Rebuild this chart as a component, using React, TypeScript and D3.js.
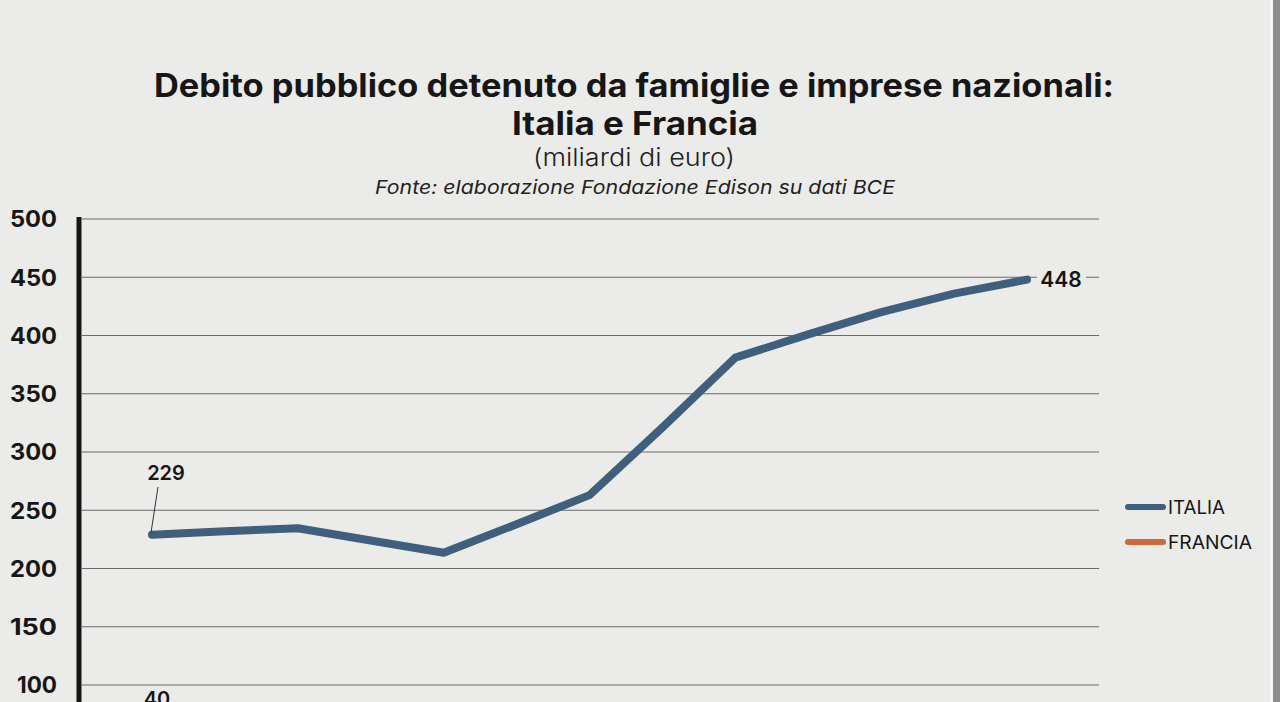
import React from "react";
import * as d3 from "d3";

const periods = ["2010","2011","2012","2013","2014","2015","2016","2017","2018","2019","2020","2021","2022"];
const italia = [229, 232, 234.5, 224, 213.5, 238, 263, 321, 381, 401, 420, 436, 448];
const francia = [40, 41, 43, 44, 42, 45, 48, 52, 55, 58, 62, 66, 70];
const yTicks = [100, 150, 200, 250, 300, 350, 400, 450, 500];

const W = 1280, H = 702;
const BG = "#ebebe9";
const BLUE = "#3f5f7c";
const ORANGE = "#d0693a";

export default function App() {
  const x = d3.scalePoint<string>().domain(periods).range([152, 1027]);
  const y = d3.scaleLinear().domain([100, 500]).range([685, 219]);
  const line = d3.line<number>().x((_, i) => x(periods[i]) as number).y((d) => y(d));
  const font = "Inter, 'Open Sans', sans-serif";
  const last = italia.length - 1;
  return (
    <svg width={W} height={H} style={{ position: "fixed", left: 0, top: 0, background: BG }} fontFamily={font}>
      <rect x={0} y={0} width={W} height={H} fill={BG} />
      <rect x={1270} y={0} width={3} height={H} fill="#f6f6f5" />
      <rect x={1273} y={0} width={7} height={H} fill="#8d8d8d" />
      <text x={634} y={97} textAnchor="middle" fontSize={32} fontWeight={700} fill="#161616" textLength={960} lengthAdjust="spacingAndGlyphs">Debito pubblico detenuto da famiglie e imprese nazionali:</text>
      <text x={635} y={135} textAnchor="middle" fontSize={32} fontWeight={700} fill="#161616" textLength={246} lengthAdjust="spacingAndGlyphs">Italia e Francia</text>
      <text x={634} y={166} textAnchor="middle" fontSize={24} fontWeight={300} fill="#222" textLength={202} lengthAdjust="spacingAndGlyphs">(miliardi di euro)</text>
      <text x={635} y={194} textAnchor="middle" fontSize={19} fontStyle="italic" fill="#222" textLength={520} lengthAdjust="spacingAndGlyphs">Fonte: elaborazione Fondazione Edison su dati BCE</text>
      {yTicks.map((t) => (
        <g key={t}>
          <line x1={82} x2={1099} y1={y(t)} y2={y(t)} stroke="#6a6a6a" strokeWidth={1.2} />
          <text x={57} y={y(t)} dy="0.36em" textAnchor="end" fontSize={23} fontWeight={700} fill="#161616" textLength={t === 100 ? 40 : 47} lengthAdjust="spacingAndGlyphs">{t}</text>
        </g>
      ))}
      <line x1={79} x2={79} y1={217} y2={H} stroke="#161616" strokeWidth={5} />
      <path d={line(francia) || ""} fill="none" stroke={ORANGE} strokeWidth={8} strokeLinecap="round" strokeLinejoin="round" />
      <path d={line(italia) || ""} fill="none" stroke={BLUE} strokeWidth={8} strokeLinecap="round" strokeLinejoin="round" />
      <line x1={158} y1={487} x2={(x(periods[0]) as number) - 1} y2={y(italia[0]) - 2} stroke="#333" strokeWidth={1} />
      <text x={166} y={480} textAnchor="middle" fontSize={20} fontWeight={600} fill="#161616">{italia[0]}</text>
      <rect x={1037} y={y(italia[last]) - 12} width={49} height={24} fill={BG} />
      <text x={1061} y={y(italia[last])} dy="0.36em" textAnchor="middle" fontSize={21} fontWeight={600} fill="#161616">{italia[last]}</text>
      <text x={157} y={706} textAnchor="middle" fontSize={20} fontWeight={600} fill="#161616">{francia[0]}</text>
      <line x1={1128} x2={1163} y1={507} y2={507} stroke={BLUE} strokeWidth={6} strokeLinecap="round" />
      <text x={1168} y={507} dy="0.36em" fontSize={19} fill="#161616" textLength={57} lengthAdjust="spacingAndGlyphs">ITALIA</text>
      <line x1={1128} x2={1163} y1={542} y2={542} stroke={ORANGE} strokeWidth={6} strokeLinecap="round" />
      <text x={1168} y={542} dy="0.36em" fontSize={19} fill="#161616" textLength={84} lengthAdjust="spacingAndGlyphs">FRANCIA</text>
    </svg>
  );
}
